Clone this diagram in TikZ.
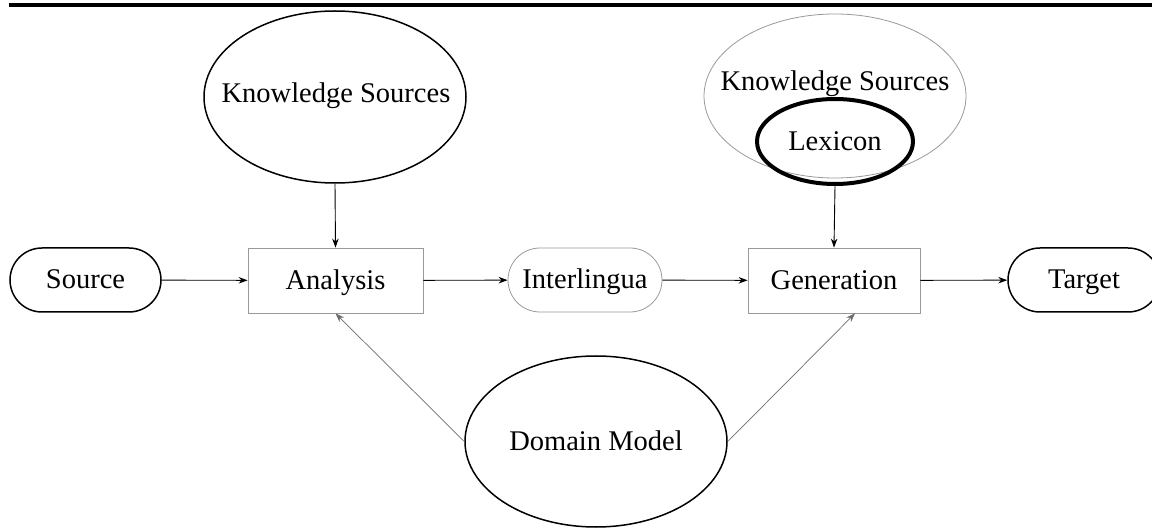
\documentclass[tikz,border=0pt]{standalone}
\usepackage{fontspec}
\setmainfont{Liberation Serif}
\usetikzlibrary{shapes.geometric,shapes.misc,arrows.meta,calc}
\begin{document}
\begin{tikzpicture}[x=1pt,y=-1pt,
  lbl/.style={font=\fontsize{28.5}{34}\selectfont, text=black, text height=20pt, text depth=2pt},
  stad/.style={lbl, rounded rectangle, rounded rectangle arc length=180, minimum width=151pt, minimum height=64pt, inner sep=0pt, draw},
  boxnode/.style={lbl, rectangle, minimum width=175pt, minimum height=65pt, inner sep=0pt, draw=gray!80, line width=0.8pt},
  ell/.style={lbl, ellipse, inner sep=0pt, draw},
  arr/.style={-{Stealth[length=9pt,width=6.5pt]}, line width=0.9pt},
  garr/.style={-{Stealth[length=9pt,width=6.5pt]}, line width=0.7pt, draw=gray!85!black}
]
\useasboundingbox (0,0) rectangle (1152,529);
\draw[line width=4pt] (9,5) -- (1152,5);

% main row
\node[stad, line width=1.5pt] (src) at (85.5,280) {Source};
\node[boxnode] (an) at (335.5,280.5) {Analysis};
\node[stad, minimum width=154pt, draw=gray!80, line width=0.8pt] (il) at (585,280) {Interlingua};
\node[boxnode, minimum width=172pt] (gen) at (834,280.5) {Generation};
\node[stad, minimum width=152pt, line width=1.5pt] (tgt) at (1084,280) {Target};

% left knowledge sources
\node[ell, minimum width=262pt, minimum height=172pt, line width=1.5pt] (ksl) at (335,97) {};
\node[lbl] (kslt) at (336,94) {Knowledge Sources};

% right knowledge sources with lexicon
\node[ell, minimum width=262pt, minimum height=164pt, draw=gray!80, line width=0.8pt] (ksr) at (835,96) {};
\node[lbl] (ksrt) at (835,82) {Knowledge Sources};
\node[ell, minimum width=156pt, minimum height=85pt, line width=4pt] (lex) at (835,141.5) {Lexicon};

% domain model
\node[ell, minimum width=262pt, minimum height=171pt, line width=1.5pt] (dm) at (596,441.5) {Domain Model};

% connectors
\draw[arr] (src) -- (an);
\draw[arr] (an) -- (il);
\draw[arr] (il) -- (gen);
\draw[arr] (gen) -- (tgt);
\draw[arr] (ksl.south) -- (an.north);
\draw[arr] (lex.south) -- (gen.north);
\coordinate (gtip) at ($(gen.south)+(21,0)$);
\draw[garr] (dm.west) -- (an.south);
\draw[garr] (dm.east) -- (gtip);
\end{tikzpicture}
\end{document}
